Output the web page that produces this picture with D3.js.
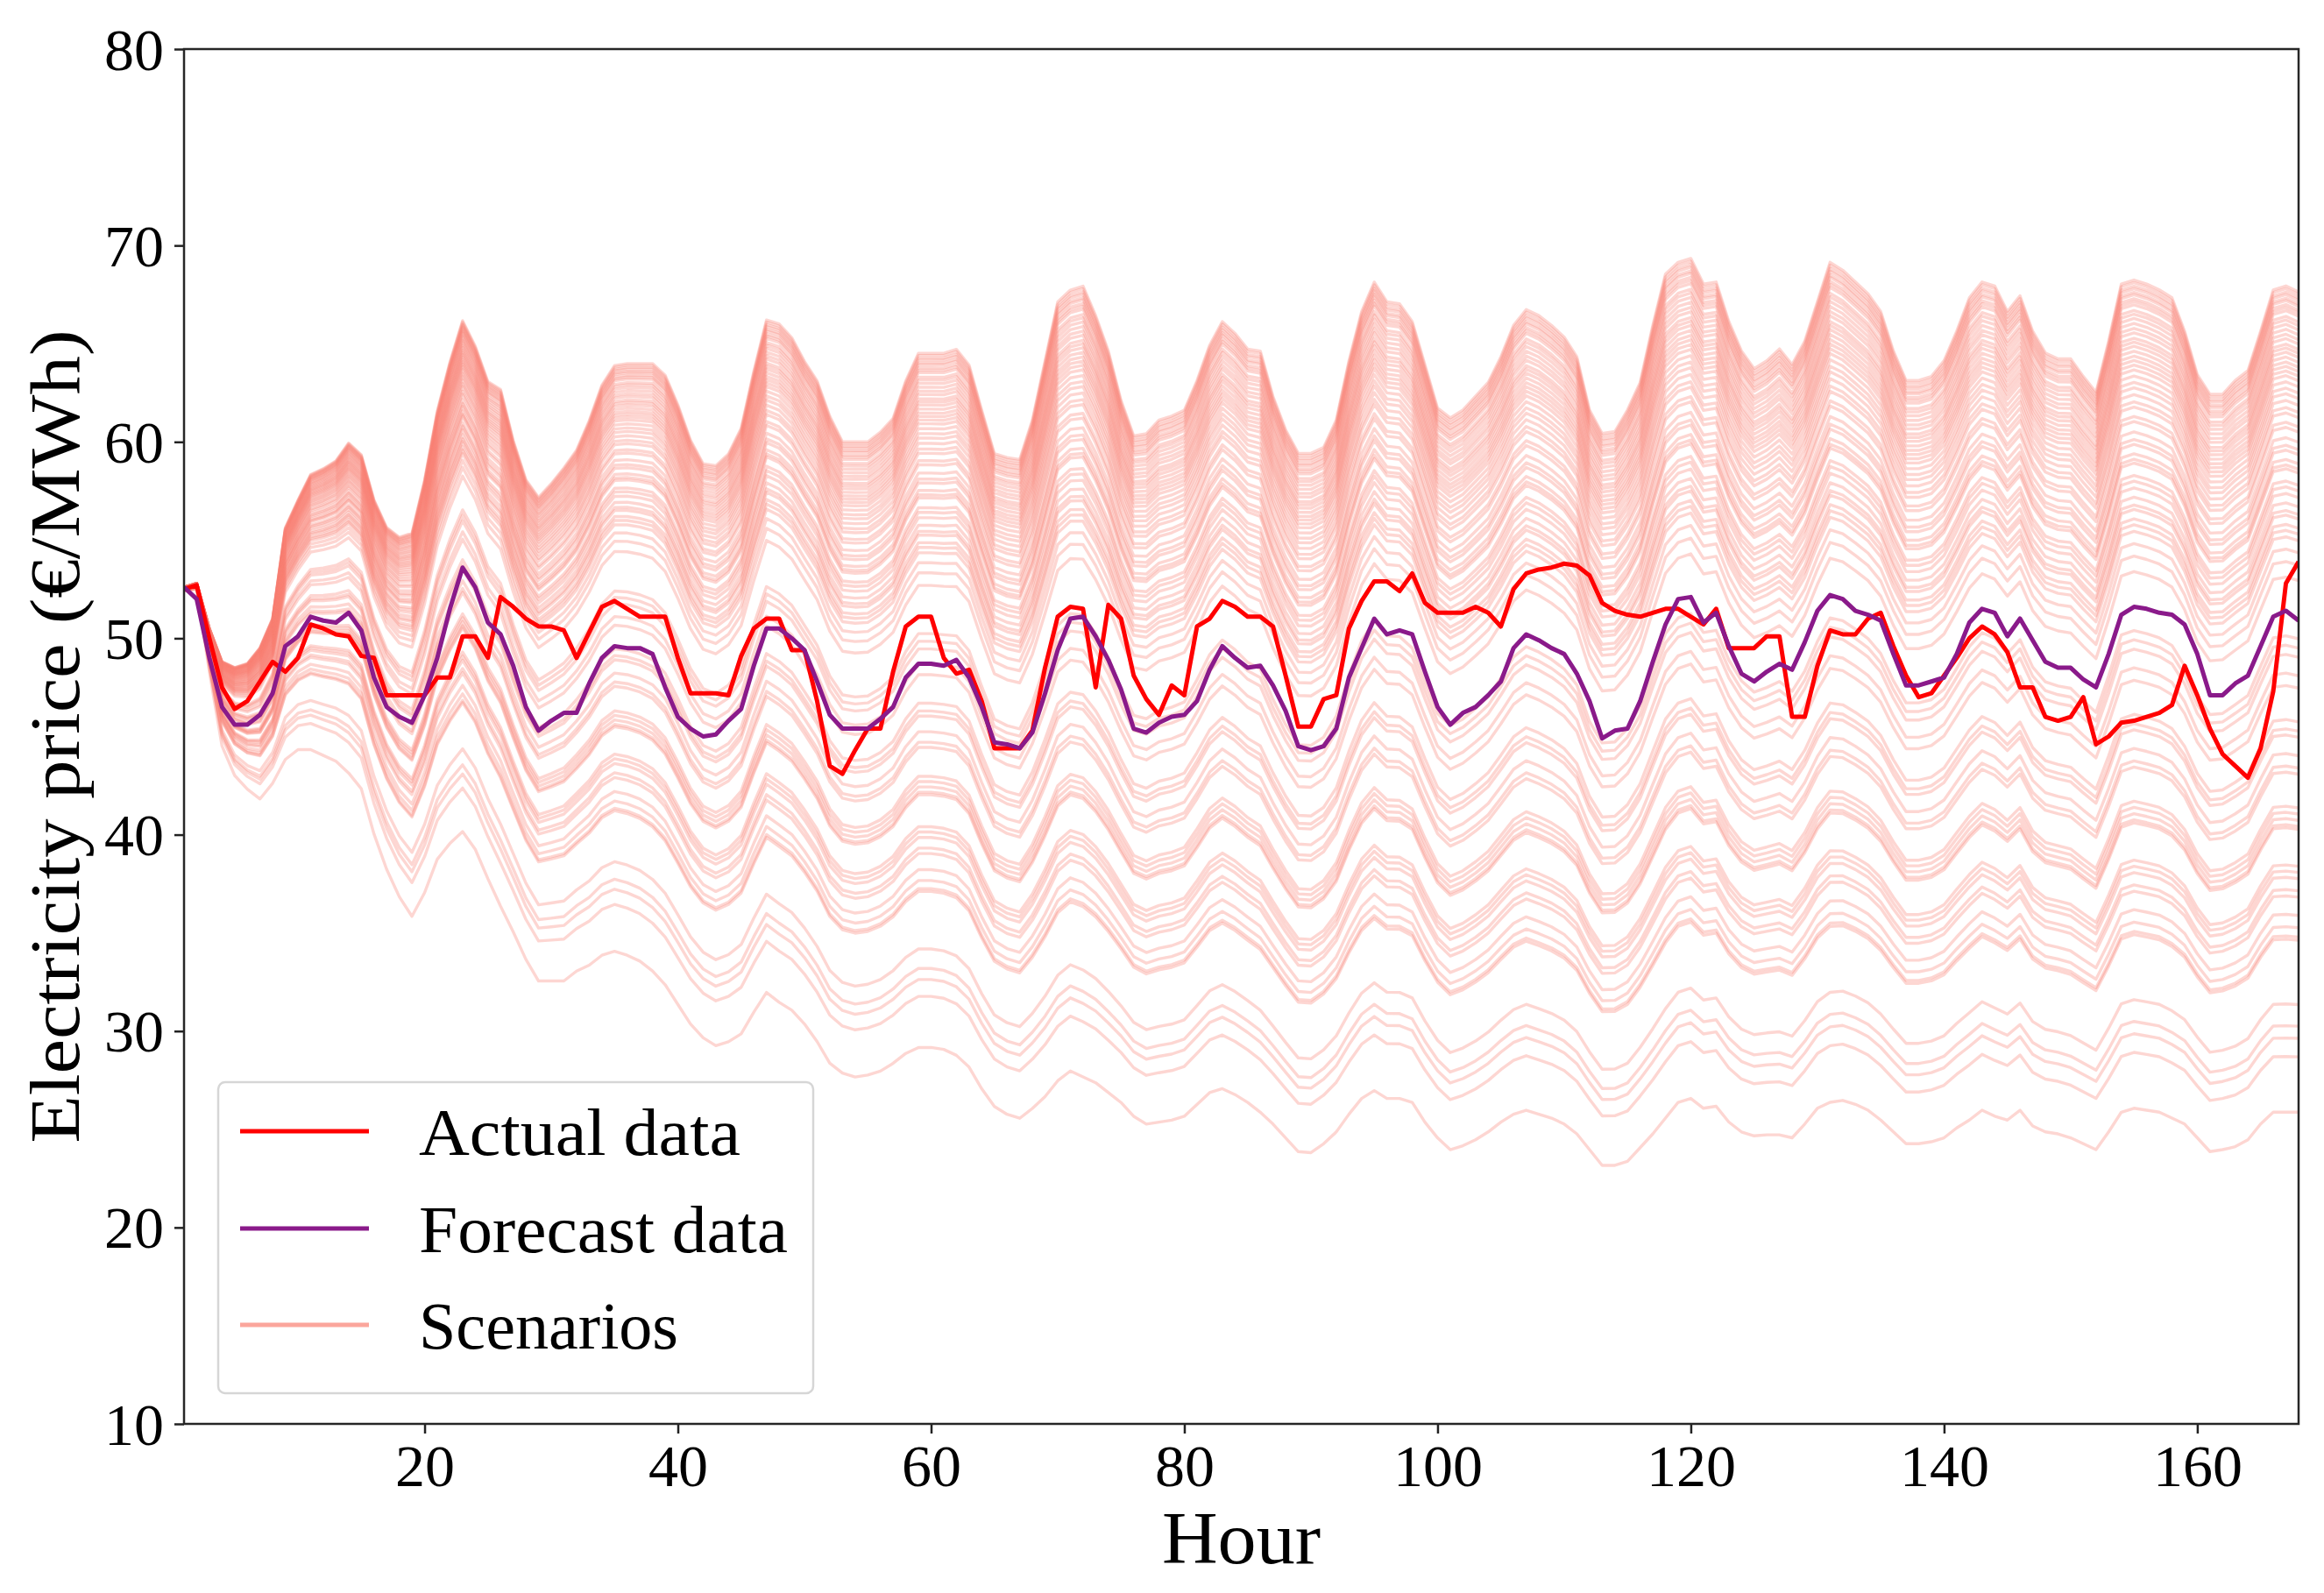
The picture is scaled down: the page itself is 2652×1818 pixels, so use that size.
<!DOCTYPE html>
<html><head><meta charset="utf-8">
<script src="https://cdn.jsdelivr.net/npm/d3@7"></script>
<style>body{margin:0;background:#fff} svg{display:block}</style>
</head><body>
<svg id="chart" width="2652" height="1818"></svg>
<script>
// ---------------- data ----------------
const hours = d3.range(1, 169); // hour 1 .. 168

const actual = [
52.5,52.7,50.0,47.5,46.4,46.8,47.8,48.8,48.3,49.0,
50.7,50.5,50.2,50.1,49.1,49.0,47.1,47.1,47.1,47.1,
48.0,48.0,50.1,50.1,49.0,52.1,51.6,51.0,50.6,50.6,
50.4,49.0,50.3,51.6,51.9,51.5,51.1,51.1,51.1,49.0,
47.2,47.2,47.2,47.1,49.1,50.5,51.0,51.0,49.4,49.4,
46.8,43.5,43.1,44.3,45.4,45.4,48.3,50.6,51.1,51.1,
49.0,48.2,48.4,46.8,44.4,44.4,44.4,45.3,48.5,51.1,
51.6,51.5,47.5,51.7,51.0,48.1,46.9,46.1,47.6,47.1,
50.6,51.0,51.9,51.6,51.1,51.1,50.6,48.1,45.5,45.5,
46.9,47.1,50.5,51.9,52.9,52.9,52.4,53.3,51.8,51.3,
51.3,51.3,51.6,51.3,50.6,52.5,53.3,53.5,53.6,53.8,
53.7,53.2,51.8,51.4,51.2,51.1,51.3,51.5,51.5,51.1,
50.7,51.5,49.5,49.5,49.5,50.1,50.1,46.0,46.0,48.6,
50.4,50.2,50.2,51.0,51.3,49.6,48.1,47.0,47.2,48.1,
49.0,50.0,50.6,50.2,49.3,47.5,47.5,46.0,45.8,46.0,
47.0,44.6,45.0,45.7,45.8,46.0,46.2,46.6,48.6,47.1,
45.4,44.1,43.5,42.9,44.4,47.3,52.8,53.9];

const forecast = [
52.6,52.0,49.0,46.5,45.6,45.6,46.1,47.2,49.6,50.1,
51.1,50.9,50.8,51.3,50.4,48.0,46.5,46.0,45.7,47.1,
49.0,51.5,53.6,52.6,50.8,50.2,48.6,46.5,45.3,45.8,
46.2,46.2,47.7,49.0,49.6,49.5,49.5,49.2,47.5,46.0,
45.4,45.0,45.1,45.8,46.4,48.6,50.5,50.5,50.0,49.4,
47.8,46.1,45.4,45.4,45.4,45.9,46.5,48.0,48.7,48.7,
48.6,48.9,48.0,46.5,44.7,44.6,44.4,45.2,47.2,49.4,
51.0,51.1,50.1,48.9,47.4,45.4,45.2,45.7,46.0,46.1,
46.8,48.4,49.6,49.0,48.5,48.6,47.6,46.3,44.5,44.3,
44.5,45.4,48.0,49.5,51.0,50.2,50.4,50.2,48.3,46.5,
45.6,46.2,46.5,47.1,47.8,49.5,50.2,49.9,49.5,49.2,
48.2,46.8,44.9,45.3,45.4,46.8,48.8,50.7,52.0,52.1,
50.8,51.3,49.6,48.2,47.8,48.3,48.7,48.4,49.8,51.4,
52.2,52.0,51.4,51.2,50.9,49.2,47.6,47.6,47.8,48.0,
49.2,50.8,51.5,51.3,50.1,51.0,49.9,48.8,48.5,48.5,
47.9,47.5,49.2,51.2,51.6,51.5,51.3,51.2,50.7,49.2,
47.1,47.1,47.7,48.1,49.6,51.1,51.4,50.9];

// upper edge of the scenario fan
const scenarioTop = [
52.6,52.8,50.5,48.8,48.5,48.7,49.5,51.0,55.6,57.0,
58.3,58.6,59.0,59.9,59.3,57.0,55.6,55.1,55.3,58.0,
61.5,64.0,66.1,64.8,63.0,62.6,60.0,58.0,57.1,57.8,
58.6,59.5,61.0,62.8,63.8,63.9,63.9,63.9,63.3,61.8,
60.0,58.8,58.7,59.3,60.6,63.5,66.1,65.9,65.2,64.0,
63.0,61.2,59.9,59.9,59.9,60.4,61.1,63.0,64.4,64.4,
64.4,64.6,63.8,61.5,59.3,59.1,59.0,61.0,64.0,67.0,
67.6,67.8,66.3,64.5,62.0,60.2,60.3,61.0,61.2,61.5,
63.0,64.8,66.0,65.4,64.6,64.5,62.2,60.5,59.3,59.3,
59.6,61.0,64.0,66.5,68.0,67.0,66.9,66.0,63.8,61.6,
61.1,61.5,62.2,62.9,64.2,65.8,66.6,66.3,65.8,65.2,
64.2,61.5,60.3,60.4,61.5,62.9,65.8,68.4,69.0,69.2,
67.9,68.0,66.0,64.5,63.6,64.0,64.6,63.8,65.0,67.0,
69.0,68.6,68.0,67.4,66.5,64.5,63.0,63.0,63.2,64.0,
65.5,67.2,68.0,67.8,66.5,67.3,65.5,64.4,64.1,64.1,
63.2,62.4,65.0,67.9,68.1,67.9,67.6,67.2,65.5,63.3,
62.3,62.3,63.0,63.5,65.5,67.6,67.8,67.5];

// lower edge of the scenario fan
const scenarioBottom = [
52.4,52.5,48.3,44.5,43.0,42.3,41.8,42.6,43.8,44.3,
44.3,44.0,43.7,43.1,42.3,40.0,38.2,36.8,35.8,37.0,
38.7,39.5,40.1,39.2,37.7,36.3,35.0,33.6,32.5,32.5,
32.5,33.0,33.3,33.8,34.0,33.8,33.5,33.0,32.3,31.3,
30.3,29.6,29.2,29.4,29.8,30.9,31.9,31.4,31.0,30.3,
29.4,28.3,27.8,27.6,27.7,27.9,28.3,28.8,29.1,29.1,
29.0,28.7,28.1,27.0,26.1,25.7,25.5,26.0,26.6,27.4,
27.9,27.6,27.3,26.8,26.3,25.6,25.2,25.3,25.4,25.6,
26.2,26.8,27.0,26.7,26.3,25.8,25.2,24.5,23.8,23.75,
24.2,24.8,25.7,26.5,26.9,26.5,26.5,26.3,25.3,24.5,
23.9,24.1,24.4,24.8,25.3,25.7,25.9,25.7,25.5,25.2,
24.7,23.9,23.1,23.1,23.3,24.0,24.7,25.5,26.3,26.5,
26.0,26.1,25.3,24.8,24.6,24.65,24.65,24.5,25.2,26.0,
26.3,26.4,26.2,25.9,25.4,24.8,24.2,24.2,24.3,24.5,
25.0,25.4,25.9,25.6,25.4,25.9,25.1,24.8,24.7,24.5,
24.2,23.9,24.8,25.8,26.0,25.9,25.8,25.5,25.2,24.5,
23.8,23.9,24.05,24.4,25.2,25.8,25.8,25.8];

// level of each scenario line at the last hour (168)
const scenarioEndLevels = [
67.64,67.5,67.33,67.2,67.02,66.9,66.7,66.55,66.39,66.1,65.92,65.7,65.45,65.2,64.98,
64.7,64.51,64.3,64.05,63.8,63.58,63.35,63.11,62.8,62.48,62.2,61.86,61.5,61.23,60.76,
60.5,59.98,59.6,59.35,58.88,58.6,58.41,57.79,57.5,57.16,56.69,56.3,56.07,55.6,55.3,
54.97,54.35,53.72,52.94,49.97,49.5,49.03,48.09,47.46,45.74,45.27,44.96,44.02,43.39,
43.08,41.36,41.05,40.73,40.42,40.27,38.39,38.08,37.76,37.14,36.82,35.89,35.26,34.79,
34.63,31.35,30.25,29.63,28.69,25.87];

const xTicks = [20, 40, 60, 80, 100, 120, 140, 160];
const yTicks = [10, 20, 30, 40, 50, 60, 70, 80];
const legendLabels = ["Actual data", "Forecast data", "Scenarios"];

// ---------------- chart ----------------
const W = 2652, H = 1818;
const m = {left: 210, right: 2623, top: 56, bottom: 1625};
const FONT = "'Liberation Serif', 'Times New Roman', serif";
const C_ACT = "#ff0000", C_FC = "#8a1a8a", C_SC = "#fa8072";

const svg = d3.select("#chart");
svg.append("rect").attr("width", W).attr("height", H).attr("fill", "#fff");

const x = d3.scaleLinear().domain([1, 168]).range([m.left, m.right]);
const y = d3.scaleLinear().domain([10, 80]).range([m.bottom, m.top]);

const plot = svg.append("g");
plot.append("clipPath").attr("id", "clip").append("rect")
  .attr("x", m.left).attr("y", m.top).attr("width", m.right - m.left).attr("height", m.bottom - m.top);
const layer = plot.append("g").attr("clip-path", "url(#clip)");

const line = d3.line().x((d, i) => x(hours[i])).y(d => y(d));

// scenarios: each line keeps its relative (log) position inside the fan edges
const last = hours.length - 1;
const lnTopEnd = Math.log(scenarioTop[last]), lnBotEnd = Math.log(scenarioBottom[last]);
const scenarios = scenarioEndLevels.map(v => {
  const f = (Math.log(v) - lnBotEnd) / (lnTopEnd - lnBotEnd);
  return hours.map((h, i) => {
    const lb = Math.log(scenarioBottom[i]), lt = Math.log(scenarioTop[i]);
    return Math.exp(lb + f * (lt - lb));
  });
});

layer.selectAll("path.sc").data(scenarios).join("path")
  .attr("class", "sc").attr("d", line)
  .attr("fill", "none").attr("stroke", C_SC).attr("stroke-width", 3.4)
  .attr("stroke-opacity", 0.32).attr("stroke-linejoin", "round");

layer.append("path").datum(actual).attr("d", line)
  .attr("fill", "none").attr("stroke", C_ACT).attr("stroke-width", 5)
  .attr("stroke-linejoin", "round");
layer.append("path").datum(forecast).attr("d", line)
  .attr("fill", "none").attr("stroke", C_FC).attr("stroke-width", 5)
  .attr("stroke-linejoin", "round");

// axes
const xAxis = d3.axisBottom(x).tickValues(xTicks).tickSize(11).tickPadding(12).tickFormat(d3.format("d"));
const yAxis = d3.axisLeft(y).tickValues(yTicks).tickSize(11).tickPadding(12).tickFormat(d3.format("d"));
const gx = svg.append("g").attr("transform", `translate(0,${m.bottom})`).call(xAxis);
const gy = svg.append("g").attr("transform", `translate(${m.left},0)`).call(yAxis);
[gx, gy].forEach(g => {
  g.select(".domain").remove();
  g.selectAll(".tick line").attr("stroke", "#222").attr("stroke-width", 2.5);
  g.selectAll(".tick text").attr("fill", "#000").style("font-family", FONT).style("font-size", "68px");
});
gy.selectAll(".tick text").attr("dy", "0.34em");

// frame
svg.append("rect").attr("x", m.left).attr("y", m.top)
  .attr("width", m.right - m.left).attr("height", m.bottom - m.top)
  .attr("fill", "none").attr("stroke", "#262626").attr("stroke-width", 2.5);

// axis titles
svg.append("text").attr("x", (m.left + m.right) / 2).attr("y", 1784)
  .attr("text-anchor", "middle").style("font-family", FONT).style("font-size", "84px")
  .attr("textLength", 181).attr("lengthAdjust", "spacingAndGlyphs")
  .text("Hour");
svg.append("text").attr("transform", `translate(90,${(m.top + m.bottom) / 2}) rotate(-90)`)
  .attr("text-anchor", "middle").style("font-family", FONT).style("font-size", "80px")
  .attr("textLength", 928).attr("lengthAdjust", "spacingAndGlyphs")
  .text("Electricity price (€/MWh)");

// legend
const lg = svg.append("g");
lg.append("rect").attr("x", 249).attr("y", 1235).attr("width", 679).attr("height", 355)
  .attr("rx", 8).attr("fill", "#fff").attr("fill-opacity", 0.85)
  .attr("stroke", "#d6d6d6").attr("stroke-width", 2.5);
const legendStyles = [{c: C_ACT, o: 1}, {c: C_FC, o: 1}, {c: C_SC, o: 0.7}];
const legendWidths = [367, 421, 296];
const rowY = [1291, 1402, 1512];
legendLabels.forEach((t, i) => {
  lg.append("line").attr("x1", 274).attr("x2", 421).attr("y1", rowY[i]).attr("y2", rowY[i])
    .attr("stroke", legendStyles[i].c).attr("stroke-opacity", legendStyles[i].o).attr("stroke-width", 5);
  lg.append("text").attr("x", 478).attr("y", rowY[i]).attr("dy", "0.36em")
    .style("font-family", FONT).style("font-size", "76px")
    .attr("textLength", legendWidths[i]).attr("lengthAdjust", "spacingAndGlyphs").text(t);
});
</script>
</body></html>
